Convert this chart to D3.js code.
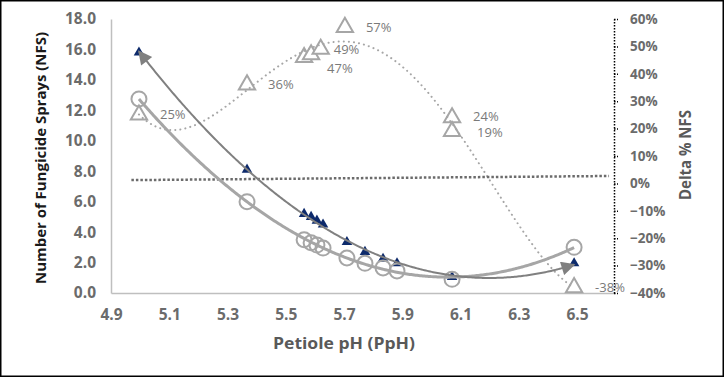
<!DOCTYPE html>
<html>
<head>
<meta charset="utf-8">
<script src="https://cdn.jsdelivr.net/npm/d3@7"></script>
<style>
body{margin:0;background:#fff;}
text{font-family:"Open Sans",sans-serif;}
</style>
</head>
<body>
<div id="grafico"></div>
<script>
// petiole pH of the samples
const phSamples=[4.996,5.367,5.563,5.587,5.607,5.628,5.710,5.772,5.834,5.882,6.071,6.490]
// NFS, first series (navy triangles)
const nfsA=[15.8,8.1,5.2,5.0,4.75,4.5,3.35,2.7,2.25,1.95,1.05,1.95]
// NFS, second series (grey circles)
const nfsB=[12.75,6.0,3.5,3.3,3.15,2.95,2.3,1.95,1.65,1.45,0.9,3.0]
// delta % NFS (open triangles) and their labels
const phDelta=[4.996,5.367,5.563,5.587,5.62,5.703,6.071,6.071,6.490]
const deltaNfs=[0.25,0.36,0.46,0.47,0.49,0.57,0.24,0.19,-0.38]
const deltaLabels=["25%","36%","","47%","49%","57%","24%","19%","-38%"]
// dotted reference line, on the delta axis
const refPh=[4.97,6.61]
const refDelta=[0.012,0.027]
// ticks
const xTicks=[4.9,5.1,5.3,5.5,5.7,5.9,6.1,6.3,6.5]
const yTicks=[0,2,4,6,8,10,12,14,16,18]
const y2Ticks=[-0.4,-0.3,-0.2,-0.1,0,0.1,0.2,0.3,0.4,0.5,0.6]

//least squares polynomial, x centred on its mean
let polyfit=(xs,ys,order)=>{
    const m=d3.mean(xs);
    const n=order+1;
    const A=Array.from({length:n},()=>new Array(n+1).fill(0));
    xs.forEach((x,k)=>{
        const u=x-m;
        for(let i=0;i<n;i++){
            for(let j=0;j<n;j++) A[i][j]+=Math.pow(u,i+j);
            A[i][n]+=Math.pow(u,i)*ys[k];
        }
    });
    for(let i=0;i<n;i++){
        let p=i;
        for(let r=i+1;r<n;r++) if(Math.abs(A[r][i])>Math.abs(A[p][i])) p=r;
        const tmp=A[i]; A[i]=A[p]; A[p]=tmp;
        for(let r=0;r<n;r++){
            if(r===i) continue;
            const f=A[r][i]/A[i][i];
            for(let c=i;c<=n;c++) A[r][c]-=f*A[i][c];
        }
    }
    const coef=A.map((row,i)=>row[n]/row[i]);
    return x=>coef.reduce((s,c,i)=>s+c*Math.pow(x-m,i),0);
}

const W=724, H=377
const margin={left:111, right:614, top:19, bottom:293}

const svg=d3.select("#grafico")
    .append("svg")
    .attr("width",W)
    .attr("height",H)

const x=d3.scaleLinear().domain([4.9,6.627]).range([margin.left,margin.right])
const y=d3.scaleLinear().domain([0,18]).range([margin.bottom,margin.top])
const y2=d3.scaleLinear().domain([-0.4,0.6]).range([margin.bottom,margin.top])

//outer frame
svg.append("rect")
    .attr("x",0.75).attr("y",0.75)
    .attr("width",W-1.5).attr("height",H-1.5)
    .attr("fill","none").attr("stroke","#000").attr("stroke-width",1.5)

//left axis
let gy=svg.append("g")
    .attr("transform",`translate(${margin.left},0)`)
    .call(d3.axisLeft(y).tickValues(yTicks).tickSize(0).tickPadding(15).tickFormat(d3.format(".1f")))
gy.select(".domain").attr("stroke","#bfbfbf").attr("stroke-width",1.5)

//bottom axis
let gx=svg.append("g")
    .attr("transform",`translate(0,${margin.bottom})`)
    .call(d3.axisBottom(x).tickValues(xTicks).tickSize(0).tickPadding(16).tickFormat(d3.format(".1f")))
gx.select(".domain").attr("stroke","#bfbfbf").attr("stroke-width",1.5)

//right axis
let gy2=svg.append("g")
    .attr("transform",`translate(${margin.right},0)`)
    .call(d3.axisRight(y2).tickValues(y2Ticks).tickSize(4).tickSizeOuter(0).tickPadding(12).tickFormat(d3.format(".0%")))
gy2.select(".domain").attr("stroke","#000").attr("stroke-width",1.5).attr("stroke-dasharray","1.5,1.5")
gy2.selectAll(".tick line").attr("stroke","#000").attr("stroke-width",1.5).attr("stroke-dasharray","1.5,1.5")

svg.selectAll(".tick text")
    .attr("fill","#6b6b6b")
    .style("font-size","15.5px")
    .style("font-weight","bold")
gy2.selectAll(".tick text").style("font-size","13.5px")

//axis titles
svg.append("text")
    .attr("transform","translate(46,158) rotate(-90)")
    .attr("text-anchor","middle")
    .attr("textLength",252).attr("lengthAdjust","spacingAndGlyphs")
    .style("font-size","15px").style("font-weight","bold")
    .attr("fill","#1a1a1a")
    .text("Number of Fungicide Sprays (NFS)")

svg.append("text")
    .attr("x",344).attr("y",349)
    .attr("text-anchor","middle")
    .attr("textLength",142).attr("lengthAdjust","spacingAndGlyphs")
    .style("font-size","16px").style("font-weight","bold")
    .attr("fill","#595959")
    .text("Petiole pH (PpH)")

svg.append("text")
    .attr("transform","translate(691,155) rotate(-90)")
    .attr("text-anchor","middle")
    .attr("textLength",90).attr("lengthAdjust","spacingAndGlyphs")
    .style("font-size","16px").style("font-weight","bold")
    .attr("fill","#595959")
    .text("Delta % NFS")

//markers
svg.append("g").selectAll("path")
    .data(phSamples.map((p,i)=>[p,nfsA[i]]))
    .enter()
    .append("path")
    .attr("transform",d=>`translate(${x(d[0])},${y(d[1])})`)
    .attr("d",d3.symbol(d3.symbolTriangle,48))
    .attr("fill","#0d2a6b")

svg.append("g").selectAll("circle")
    .data(phSamples.map((p,i)=>[p,nfsB[i]]))
    .enter()
    .append("circle")
    .attr("cx",d=>x(d[0]))
    .attr("cy",d=>y(d[1]))
    .attr("r",7.5)
    .attr("fill","none")
    .attr("stroke","#a6a6a6")
    .attr("stroke-width",2)

svg.append("g").selectAll("path")
    .data(phDelta.map((p,i)=>[p,deltaNfs[i]]))
    .enter()
    .append("path")
    .attr("transform",d=>`translate(${x(d[0])},${y2(d[1])})`)
    .attr("d",d3.symbol(d3.symbolTriangle,115))
    .attr("fill","#fff")
    .attr("stroke","#a6a6a6")
    .attr("stroke-width",2)

//delta labels
const labelShift={3:[16,14],4:[13,0],6:[21,-1],7:[25,1.5]}
svg.append("g").selectAll("text")
    .data(phDelta.map((p,i)=>[p,deltaNfs[i],deltaLabels[i],i]))
    .enter()
    .append("text")
    .attr("x",d=>x(d[0])+(labelShift[d[3]]?labelShift[d[3]][0]:21))
    .attr("y",d=>y2(d[1])+(labelShift[d[3]]?labelShift[d[3]][1]:0))
    .attr("dy","0.35em")
    .style("font-size","13px")
    .attr("fill","#7a7a7a")
    .text(d=>d[2])

//trendlines
const defs=svg.append("defs")
defs.append("marker")
    .attr("id","arrow")
    .attr("viewBox","0 0 10 10")
    .attr("refX",9).attr("refY",5)
    .attr("markerWidth",17).attr("markerHeight",14)
    .attr("markerUnits","userSpaceOnUse")
    .attr("orient","auto-start-reverse")
    .append("path")
    .attr("d","M0,0L10,5L0,10z")
    .attr("fill","#808080")

let curve=(f,x0,x1)=>{
    const pts=d3.range(x0,x1,0.005).map(v=>[v,f(v)])
    pts.push([x1,f(x1)])
    return pts
}
const xMin=d3.min(phSamples), xMax=d3.max(phSamples)

const fitDelta=polyfit(phDelta,deltaNfs,4)
svg.append("path")
    .attr("d",d3.line().x(d=>x(d[0])).y(d=>y2(d[1]))(curve(fitDelta,xMin,xMax).filter(d=>d[1]>=-0.4)))
    .attr("fill","none")
    .attr("stroke","#a6a6a6")
    .attr("stroke-width",2)
    .attr("stroke-linecap","round")
    .attr("stroke-dasharray","0.1,5")

svg.append("path")
    .attr("d",d3.line().x(d=>x(d[0])).y(d=>y2(d[1]))(refPh.map((p,i)=>[p,refDelta[i]])))
    .attr("fill","none")
    .attr("stroke","#6b6b6b")
    .attr("stroke-width",2.5)
    .attr("stroke-dasharray","2.5,2")

const fitB=polyfit(phSamples,nfsB,2)
svg.append("path")
    .attr("d",d3.line().x(d=>x(d[0])).y(d=>y(d[1]))(curve(fitB,xMin,xMax)))
    .attr("fill","none")
    .attr("stroke","#a6a6a6")
    .attr("stroke-width",3)

const fitA=polyfit(phSamples,nfsA,2)
svg.append("path")
    .attr("d",d3.line().x(d=>x(d[0])).y(d=>y(d[1]))(curve(fitA,xMin,xMax)))
    .attr("fill","none")
    .attr("stroke","#808080")
    .attr("stroke-width",2)
    .attr("marker-start","url(#arrow)")
    .attr("marker-end","url(#arrow)")
</script>
</body>
</html>
